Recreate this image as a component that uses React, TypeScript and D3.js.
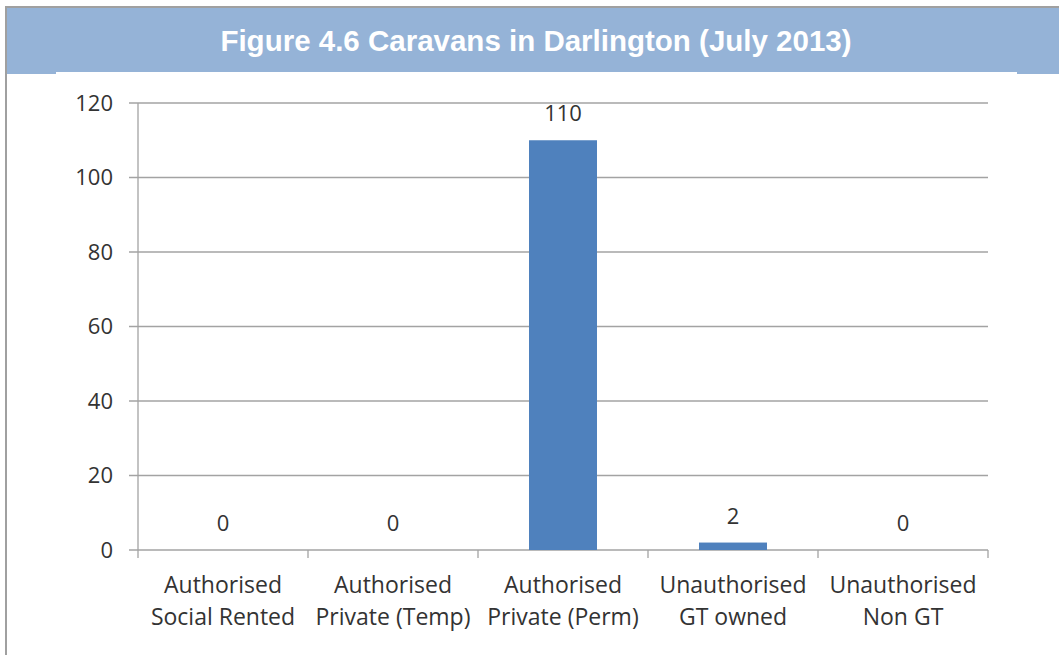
import React from "react";
import * as d3 from "d3";

const categories: string[][] = [
  ["Authorised", "Social Rented"],
  ["Authorised", "Private (Temp)"],
  ["Authorised", "Private (Perm)"],
  ["Unauthorised", "GT owned"],
  ["Unauthorised", "Non GT"],
];
const values: number[] = [0, 0, 110, 2, 0];
const yTicks: number[] = [0, 20, 40, 60, 80, 100, 120];
const title = "Figure 4.6 Caravans in Darlington (July 2013)";

const W = 1059;
const H = 655;
const FONT = "'Open Sans', sans-serif";
const TEXT = "#333333";
const GRID = "#a3a3a3";

export default function App() {
  const left = 138;
  const right = 988;
  const top = 103;
  const bottom = 550;
  const x = d3
    .scaleBand<number>()
    .domain(d3.range(values.length))
    .range([left, right])
    .paddingInner(0.6)
    .paddingOuter(0.3);
  const band = d3.scaleBand<number>().domain(d3.range(values.length)).range([left, right]);
  const y = d3.scaleLinear().domain([0, 120]).range([bottom, top]);

  return (
    <div style={{ position: "fixed", left: 0, top: 0 }}>
      <svg width={W} height={H} style={{ display: "block", background: "#fff" }}>
        <rect x={0} y={0} width={W} height={H} fill="#fff" />
        {/* header */}
        <rect x={7} y={8} width={W - 7} height={66} fill="#95B3D7" />
        <rect x={56} y={72} width={1017 - 56} height={3} fill="#fff" />
        <rect x={5} y={6} width={W - 5} height={2} fill="#a0a0a0" />
        <rect x={5} y={6} width={2} height={H - 6} fill="#a0a0a0" />
        <text
          x={536}
          y={51}
          textAnchor="middle"
          fill="#fff"
          fontFamily="'Liberation Sans', Arial, sans-serif"
          fontWeight="bold"
          fontSize={29.5}
        >
          {title}
        </text>

        {/* gridlines and y ticks */}
        {yTicks.map((t) => (
          <g key={t}>
            <line x1={129} x2={right} y1={y(t)} y2={y(t)} stroke={GRID} strokeWidth={1.3} />
            <text
              x={113}
              y={y(t)}
              dy="0.36em"
              textAnchor="end"
              fill={TEXT}
              fontFamily={FONT}
              fontSize={22}
            >
              {t}
            </text>
          </g>
        ))}
        {/* y axis */}
        <line x1={left} x2={left} y1={top} y2={bottom} stroke={GRID} strokeWidth={1.3} />
        {/* x ticks */}
        {d3.range(values.length + 1).map((i) => {
          const xx = left + i * band.bandwidth();
          return (
            <line key={i} x1={xx} x2={xx} y1={bottom} y2={bottom + 8} stroke={GRID} strokeWidth={1.3} />
          );
        })}

        {/* bars */}
        {values.map((v, i) => (
          <rect
            key={i}
            x={x(i)}
            y={y(v)}
            width={x.bandwidth()}
            height={bottom - y(v)}
            fill="#4F81BD"
          />
        ))}
        {/* value labels */}
        {values.map((v, i) => (
          <text
            key={i}
            x={(x(i) as number) + x.bandwidth() / 2}
            y={y(v) - 19}
            textAnchor="middle"
            fill={TEXT}
            fontFamily={FONT}
            fontSize={22}
          >
            {v}
          </text>
        ))}
        {/* category labels */}
        {categories.map((lines, i) => (
          <text
            key={i}
            x={(band(i) as number) + band.bandwidth() / 2}
            y={585}
            textAnchor="middle"
            fill={TEXT}
            fontFamily={FONT}
            fontSize={23}
          >
            {lines.map((l, j) => (
              <tspan key={j} x={(band(i) as number) + band.bandwidth() / 2} y={585 + j * 32} dy="0.36em">
                {l}
              </tspan>
            ))}
          </text>
        ))}
      </svg>
    </div>
  );
}
